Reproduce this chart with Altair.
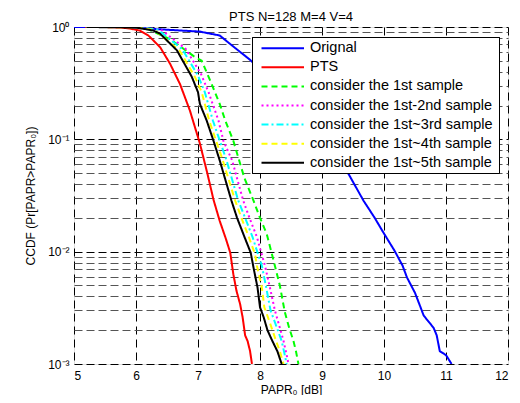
import altair as alt
import pandas as pd

# ---- data ----
orig_x = [5.0, 5.85, 6.44, 7.03, 7.35, 7.57, 7.84, 8.2, 8.6, 9.0, 9.43, 9.67, 9.85, 9.99, 10.17, 10.3, 10.37, 10.5, 10.58, 10.64, 10.77, 10.8, 10.85, 10.9, 11.0, 11.09]
orig_y = [1.0, 0.999, 0.95, 0.91, 0.84, 0.67, 0.51, 0.33, 0.2, 0.11, 0.049, 0.0284, 0.02, 0.0148, 0.0102, 0.0075, 0.0059, 0.0043, 0.0033, 0.0027, 0.0022, 0.0021, 0.0018, 0.0013, 0.0012, 0.001]

pts_x = [5.18, 5.5, 5.74, 5.9, 6.06, 6.2, 6.39, 6.55, 6.71, 6.87, 7.03, 7.15, 7.25, 7.35, 7.45, 7.52, 7.57, 7.62, 7.68, 7.72, 7.76, 7.8, 7.84, 7.87]
pts_y = [1.0, 0.999, 0.99, 0.97, 0.93, 0.84, 0.66, 0.47, 0.31, 0.18, 0.092, 0.05, 0.029, 0.0188, 0.013, 0.0098, 0.0063, 0.0045, 0.0034, 0.0026, 0.0018, 0.0016, 0.0013, 0.001]

s1_x = [5.2, 5.9, 6.17, 6.55, 6.93, 7.06, 7.2, 7.35, 7.44, 7.57, 7.75, 7.9, 8.0, 8.11, 8.24, 8.32, 8.4, 8.47, 8.54, 8.58, 8.62]
s1_y = [1.0, 0.998, 0.97, 0.78, 0.55, 0.5, 0.33, 0.207, 0.147, 0.097, 0.045, 0.028, 0.02, 0.0143, 0.0075, 0.005, 0.0029, 0.0021, 0.0016, 0.0013, 0.001]

s2_x = [5.2, 6.0, 6.4, 6.8, 7.05, 7.17, 7.33, 7.41, 7.55, 7.73, 7.83, 7.95, 8.02, 8.08, 8.16, 8.24, 8.31, 8.38, 8.43, 8.46]
s2_y = [1.0, 0.998, 0.95, 0.64, 0.38, 0.263, 0.147, 0.097, 0.065, 0.0284, 0.02, 0.0135, 0.0098, 0.0075, 0.0048, 0.003, 0.0022, 0.0016, 0.0012, 0.001]

s3_x = [5.2, 6.0, 6.35, 6.75, 7.0, 7.11, 7.24, 7.46, 7.65, 7.76, 7.88, 7.96, 8.03, 8.1, 8.17, 8.26, 8.35, 8.4, 8.43]
s3_y = [1.0, 0.997, 0.95, 0.63, 0.37, 0.263, 0.147, 0.065, 0.0284, 0.02, 0.0135, 0.0098, 0.0075, 0.0048, 0.003, 0.0022, 0.0016, 0.0012, 0.001]

s4_x = [5.2, 6.0, 6.3, 6.7, 6.95, 7.06, 7.18, 7.4, 7.6, 7.7, 7.82, 7.92, 7.95, 8.03, 8.07, 8.14, 8.26, 8.32, 8.38]
s4_y = [1.0, 0.995, 0.94, 0.62, 0.36, 0.263, 0.147, 0.065, 0.0284, 0.02, 0.0135, 0.0095, 0.0075, 0.0048, 0.0032, 0.0025, 0.0016, 0.0013, 0.001]

s5_x = [5.2, 6.0, 6.28, 6.39, 6.66, 6.9, 7.0, 7.03, 7.14, 7.25, 7.35, 7.54, 7.63, 7.75, 7.85, 7.9, 7.96, 8.0, 8.06, 8.12, 8.2, 8.28, 8.35]
s5_y = [1.0, 0.99, 0.93, 0.87, 0.62, 0.36, 0.263, 0.207, 0.147, 0.097, 0.065, 0.0284, 0.02, 0.0135, 0.0098, 0.007, 0.0048, 0.0032, 0.0026, 0.002, 0.0016, 0.0013, 0.001]

series_names = ["Orignal", "PTS", "consider the 1st sample", "consider the 1st-2nd sample",
                "consider the 1st~3rd sample", "consider the 1st~4th sample", "consider the 1st~5th sample"]
series_colors = ["#0000FF", "#FF0000", "#00FF00", "#FF00FF", "#00FFFF", "#FFFF00", "#000000"]
series_dash = [[1, 0], [1, 0], [6, 4], [2, 3], [7, 3, 2, 3], [6, 4], [1, 0]]
series_data = [(orig_x, orig_y), (pts_x, pts_y), (s1_x, s1_y), (s2_x, s2_y),
               (s3_x, s3_y), (s4_x, s4_y), (s5_x, s5_y)]

x_ticks = [5, 6, 7, 8, 9, 10, 11, 12]
y_major = [1, 0.1, 0.01, 0.001]
y_grid = [m * 10.0 ** e for e in (-3, -2, -1) for m in range(1, 10)] + [1.0]

rows = []
for name, (xs, ys) in zip(series_names, series_data):
    for i, (xv, yv) in enumerate(zip(xs, ys)):
        rows.append({"series": name, "x": xv, "y": yv, "i": i})
df = pd.DataFrame(rows)
legend_df = pd.DataFrame({"series": series_names, "row": list(range(len(series_names)))})

xscale = alt.Scale(domain=[5, 12], nice=False, zero=False)
yscale = alt.Scale(type="log", domain=[0.001, 1], nice=False)
cscale = alt.Scale(domain=series_names, range=series_colors)
dscale = alt.Scale(domain=series_names, range=series_dash)

label_expr = ("datum.value == 1 ? '10⁰' : (abs(datum.value-0.1)<1e-9 ? '10⁻¹' : "
              "(abs(datum.value-0.01)<1e-10 ? '10⁻²' : (abs(datum.value-0.001)<1e-11 ? '10⁻³' : '')))")

layers = []
for k, name in enumerate(series_names):
    lay = alt.Chart(df).transform_filter(alt.datum.series == name).mark_line(
        strokeWidth=2, clip=True).encode(
        x=alt.X("x:Q", scale=xscale,
                axis=alt.Axis(values=x_ticks, title="PAPR₀ [dB]", grid=True, gridDash=[8, 5],
                              gridColor="black", gridOpacity=1, tickSize=0, labelPadding=6,
                              labelFontSize=12, titleFontSize=12, titleFontWeight="normal",
                              titlePadding=3, domain=False)),
        y=alt.Y("y:Q", scale=yscale,
                axis=alt.Axis(values=y_grid, labelExpr=label_expr, title="CCDF (Pr[PAPR>PAPR₀])",
                              grid=True, gridDash=[8, 4],
                              gridColor={"condition": {"test": "indexof([1,0.1,0.01,0.001], datum.value) >= 0", "value": "black"}, "value": "#555555"},
                              gridOpacity=1, tickSize=0, labelPadding=5, labelFontSize=12,
                              titleFontSize=12, titleFontWeight="normal", titlePadding=10,
                              domain=False, labelOverlap=False)),
        color=alt.Color("series:N", scale=cscale, legend=None),
        strokeDash=alt.StrokeDash("series:N", scale=dscale, legend=None),
        order="i:Q",
    )
    layers.append(lay)

# ---- legend box drawn as marks ----
leg_y = alt.Y("row:Q", scale=alt.Scale(domain=[0, 6], range=[21.3, 135.7]), axis=None)
leg_box = alt.Chart(legend_df).mark_rect(fill="white", stroke="black", strokeWidth=1).encode(
    x=alt.value(178.5), x2=alt.value(425.5), y=alt.value(10.5), y2=alt.value(146.5))
leg_sym = alt.Chart(legend_df).mark_rule(strokeWidth=2).encode(
    x=alt.value(187.5), x2=alt.value(230), y=leg_y,
    color=alt.Color("series:N", scale=cscale, legend=None),
    strokeDash=alt.StrokeDash("series:N", scale=dscale, legend=None))
leg_txt = alt.Chart(legend_df).mark_text(align="left", baseline="middle", fontSize=14.5,
                                          font="Liberation Sans", color="black").encode(
    x=alt.value(236), y=leg_y, text="series:N")
legend_layer = alt.layer(leg_box, leg_sym, leg_txt)

chart = alt.layer(alt.layer(*layers), legend_layer).resolve_scale(y="independent").properties(
    width=434, height=337,
    title=alt.TitleParams("PTS N=128 M=4 V=4", fontSize=13, fontWeight="normal", offset=-3,
                          font="Liberation Sans", color="black"),
    autosize=alt.AutoSizeParams(type="none"),
    padding={"left": 66, "top": 19, "right": 4, "bottom": 31},
).configure_view(stroke="black", strokeWidth=1.5).configure_axis(
    labelFont="Liberation Sans", titleFont="Liberation Sans", labelColor="black", titleColor="black"
).configure(background="white")

chart.save("out.html", embed_options={"renderer": "svg", "actions": False})
